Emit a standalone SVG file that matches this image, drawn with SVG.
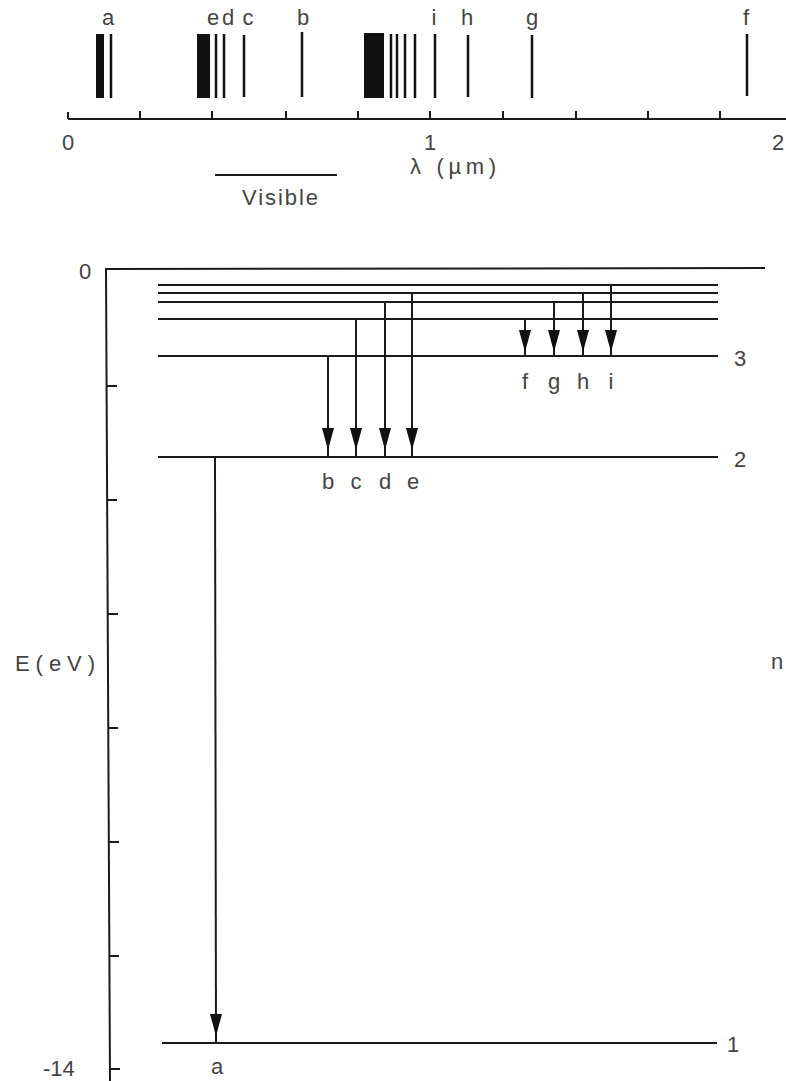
<svg xmlns="http://www.w3.org/2000/svg" xmlns:xlink="http://www.w3.org/1999/xlink" width="786" height="1081" viewBox="0 0 786 1081">
<style>
.ln{stroke:#1a1a1a;stroke-width:2;fill:none}
.sp{stroke:#111;stroke-width:2.5}
.bar{fill:#111}
.t{font-family:"Liberation Sans",Arial,sans-serif;font-size:22px;fill:#444}
.m{text-anchor:middle}
.hd{fill:#111}
</style>
<defs>
<path id="ah" d="M-6,-22 L6,-22 L0,0 Z"/>
</defs>
<rect width="786" height="1081" fill="#fff"/>

<!-- Top spectrum -->
<g id="spectrum">
  <line class="ln" x1="68" y1="119" x2="786" y2="119"/>
  <g class="ln">
    <line x1="68" y1="112" x2="68" y2="119"/>
    <line x1="140" y1="111" x2="140" y2="119"/>
    <line x1="212" y1="111" x2="212" y2="119"/>
    <line x1="286" y1="111" x2="286" y2="119"/>
    <line x1="358" y1="111" x2="358" y2="119"/>
    <line x1="430" y1="111" x2="430" y2="119"/>
    <line x1="503" y1="111" x2="503" y2="119"/>
    <line x1="576" y1="111" x2="576" y2="119"/>
    <line x1="648" y1="111" x2="648" y2="119"/>
    <line x1="720" y1="111" x2="720" y2="119"/>
  </g>
  <rect class="bar" x="96" y="34" width="8" height="64"/>
  <rect class="bar" x="197" y="34" width="13" height="64"/>
  <rect class="bar" x="364" y="33" width="20" height="65"/>
  <g class="sp">
    <line x1="111" y1="34" x2="111" y2="98"/>
    <line x1="216" y1="34" x2="216" y2="98"/>
    <line x1="224" y1="34" x2="224" y2="98"/>
    <line x1="244" y1="35" x2="244" y2="97"/>
    <line x1="302" y1="32" x2="302" y2="97"/>
    <line x1="391" y1="34" x2="391" y2="98"/>
    <line x1="397" y1="34" x2="397" y2="98"/>
    <line x1="405" y1="34" x2="405" y2="98"/>
    <line x1="415" y1="34" x2="415" y2="98"/>
    <line x1="435" y1="34" x2="435" y2="98"/>
    <line x1="468" y1="35" x2="468" y2="97"/>
    <line x1="532" y1="35" x2="532" y2="98"/>
    <line x1="747" y1="34" x2="747" y2="96"/>
  </g>
  <g class="t m">
    <text x="108" y="25">a</text>
    <text x="213" y="25">e</text>
    <text x="228" y="25">d</text>
    <text x="248" y="25">c</text>
    <text x="303" y="25">b</text>
    <text x="434" y="25">i</text>
    <text x="467" y="25">h</text>
    <text x="532" y="25">g</text>
    <text x="746" y="25">f</text>
    <text x="68" y="150">0</text>
    <text x="430" y="150">1</text>
  </g>
  <text class="t" x="772" y="150">2</text>
  <text class="t" x="410" y="174" textLength="86" lengthAdjust="spacing">λ (µm)</text>
  <line class="ln" x1="215" y1="175" x2="337" y2="175"/>
  <text class="t m" x="280" y="205" textLength="76" lengthAdjust="spacing">Visible</text>
</g>

<!-- Energy axis -->
<g id="axis">
  <line class="ln" x1="106" y1="269" x2="110" y2="1081"/>
  <line class="ln" x1="105" y1="269" x2="765" y2="268"/>
  <g class="ln">
    <line x1="106" y1="386" x2="117" y2="386"/>
    <line x1="107" y1="500" x2="117" y2="500"/>
    <line x1="108" y1="614" x2="118" y2="614"/>
    <line x1="108" y1="728" x2="118" y2="728"/>
    <line x1="109" y1="842" x2="119" y2="842"/>
    <line x1="109" y1="956" x2="119" y2="956"/>
    <line x1="110" y1="1069" x2="120" y2="1069"/>
  </g>
  <text class="t" x="79" y="279">0</text>
  <text class="t" x="15" y="671" textLength="80" lengthAdjust="spacing">E(eV)</text>
  <text class="t" x="43" y="1076">-14</text>
</g>

<!-- Levels -->
<g id="levels" class="ln">
  <line x1="158" y1="285" x2="718" y2="285"/>
  <line x1="158" y1="293" x2="718" y2="293"/>
  <line x1="158" y1="302" x2="718" y2="302"/>
  <line x1="158" y1="319" x2="718" y2="319"/>
  <line x1="158" y1="356" x2="718" y2="356"/>
  <line x1="158" y1="457" x2="718" y2="457"/>
  <line x1="162" y1="1043" x2="717" y2="1043"/>
</g>
<g id="level-labels" class="t">
  <text x="734" y="366">3</text>
  <text x="734" y="467">2</text>
  <text x="727" y="1052">1</text>
  <text x="771" y="669">n</text>
</g>

<!-- Transitions -->
<g id="connectors">
  <g class="ln">
    <line x1="215" y1="457" x2="216" y2="1043"/>
    <line x1="328" y1="356" x2="328" y2="457"/>
    <line x1="356" y1="319" x2="356" y2="457"/>
    <line x1="385" y1="302" x2="385" y2="457"/>
    <line x1="412" y1="293" x2="412" y2="457"/>
    <line x1="525" y1="319" x2="525" y2="356"/>
    <line x1="554" y1="302" x2="554" y2="356"/>
    <line x1="583" y1="293" x2="583" y2="356"/>
    <line x1="611" y1="285" x2="611" y2="356"/>
  </g>
  <g class="hd">
    <use xlink:href="#ah" x="216" y="1036"/>
    <use xlink:href="#ah" x="328" y="450"/>
    <use xlink:href="#ah" x="356" y="450"/>
    <use xlink:href="#ah" x="385" y="450"/>
    <use xlink:href="#ah" x="412" y="450"/>
    <use xlink:href="#ah" x="525" y="352"/>
    <use xlink:href="#ah" x="554" y="352"/>
    <use xlink:href="#ah" x="583" y="352"/>
    <use xlink:href="#ah" x="611" y="352"/>
  </g>
</g>
<g id="transition-labels" class="t m">
  <text x="217" y="1074">a</text>
  <text x="328" y="489">b</text>
  <text x="356" y="489">c</text>
  <text x="385" y="489">d</text>
  <text x="413" y="489">e</text>
  <text x="525" y="389">f</text>
  <text x="554" y="389">g</text>
  <text x="583" y="389">h</text>
  <text x="611" y="389">i</text>
</g>
</svg>
